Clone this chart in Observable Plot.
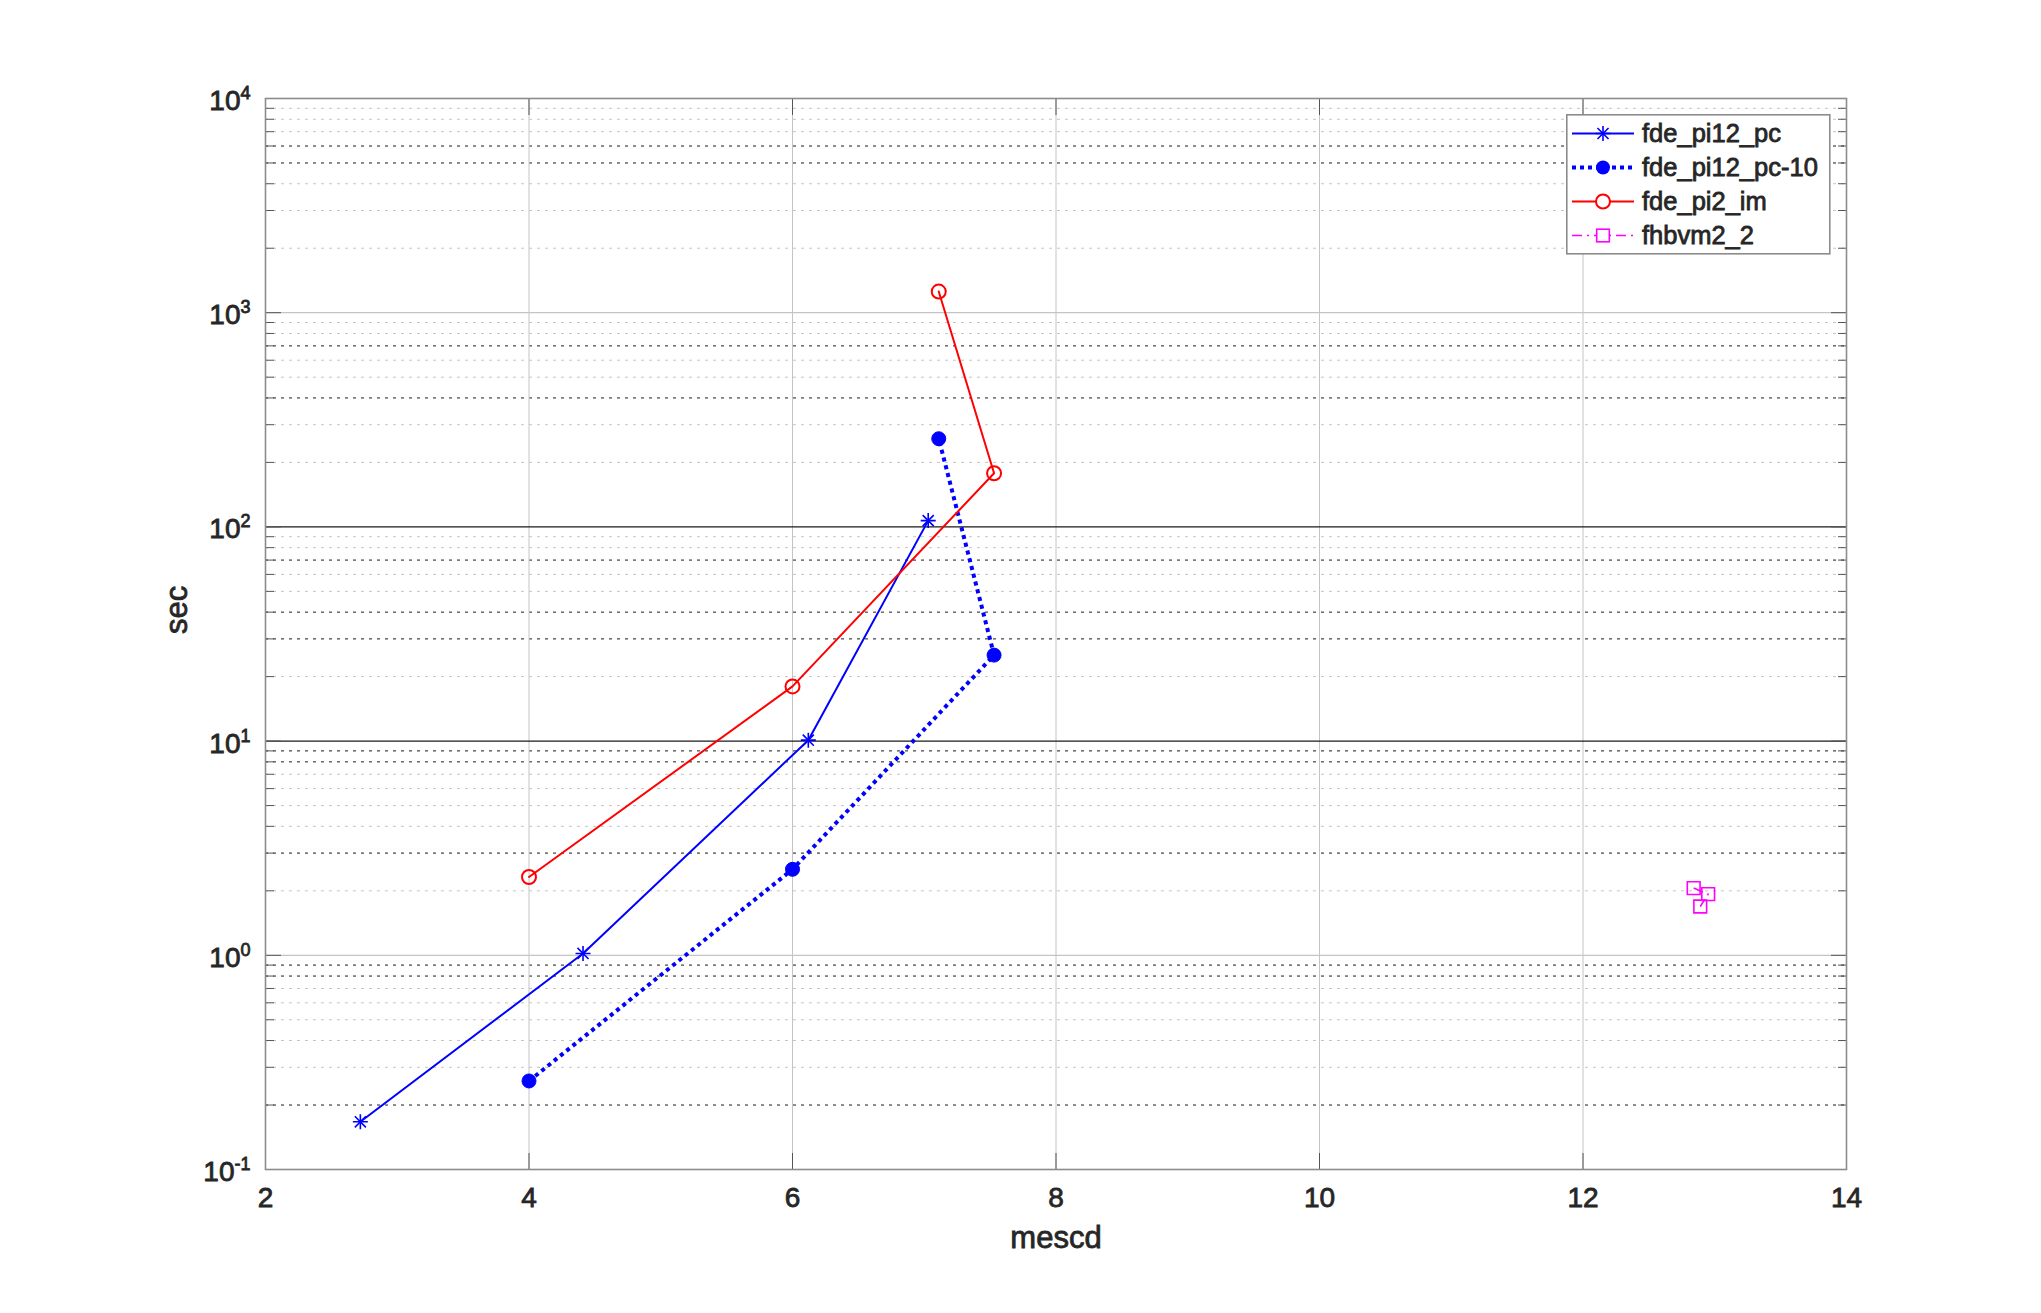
<!DOCTYPE html>
<html>
<head>
<meta charset="utf-8">
<script src="https://cdn.jsdelivr.net/npm/d3@7"></script>
<script src="https://cdn.jsdelivr.net/npm/@observablehq/plot@0.6"></script>
<style>
  body { margin: 0; background: #fff; }
  #wrap { position: relative; width: 2041px; height: 1313px; font-family: "Liberation Sans", Arial, sans-serif; }
  #wrap svg { position: absolute; left: 0; top: 0; }
  #wrap text { stroke: #262626; stroke-width: 0.8px; }
</style>
</head>
<body>
<div id="wrap"></div>
<script>
// ---- data ----
const seriesNames = ["fde_pi12_pc", "fde_pi12_pc-10", "fde_pi2_im", "fhbvm2_2"];
const pcX   = [2.72, 4.41, 6.12, 7.03];
const pcY   = [0.167, 1.02, 10.1, 107];
const pc10X = [4.0, 6.0, 7.53, 7.11];
const pc10Y = [0.259, 2.52, 25.2, 258];
const imX   = [4.0, 6.0, 7.53, 7.11];
const imY   = [2.32, 18.0, 178, 1255];
const hbX   = [12.84, 12.95, 12.89];
const hbY   = [2.06, 1.93, 1.69];

const xTicks = [2, 4, 6, 8, 10, 12, 14];
const xGrid = [4, 6, 8, 10, 12];
const yDecades = [0.1, 1, 10, 100, 1000, 10000];
const majorDark = [10, 100];
const majorLight = [1, 1000];
const minorDark = [0.2, 0.8, 0.9, 3, 8, 9, 30, 40, 70, 400, 700, 5000, 6000];
const minorLight = [0.3, 0.4, 0.5, 0.6, 0.7, 2, 4, 5, 6, 7, 20, 50, 60, 80, 90,
                    200, 300, 500, 600, 800, 900, 2000, 3000, 4000, 7000, 8000, 9000];
const minorAll = minorDark.concat(minorLight);

const toPts = (xs, ys) => xs.map((x, i) => ({x, y: ys[i]}));
const pc = toPts(pcX, pcY);
const pc10 = toPts(pc10X, pc10Y);
const im = toPts(imX, imY);
const hb = toPts(hbX, hbY);

const BLUE = "#0000ff", RED = "#ff0000", MAG = "#ff00ff";
const TXT = "#262626", GRID = "#c4c4c4", DARK = "#1a1a1a", TICK = "#555555";

const chart = Plot.plot({
  width: 2041,
  height: 1313,
  marginLeft: 265,
  marginRight: 195,
  marginTop: 98,
  marginBottom: 144,
  x: {domain: [2, 14]},
  y: {type: "log", domain: [0.1, 10000]},
  style: {fontFamily: "Liberation Sans, Arial, sans-serif", color: TXT, background: "white", overflow: "visible"},
  marks: [
    // grid
    Plot.ruleY(minorLight, {stroke: GRID, strokeWidth: 1, strokeDasharray: "3 5"}),
    Plot.ruleY(minorDark, {stroke: DARK, strokeWidth: 1, strokeDasharray: "3 5"}),
    Plot.ruleX(xGrid, {stroke: GRID, strokeWidth: 1}),
    Plot.ruleY(majorLight, {stroke: GRID, strokeWidth: 1.2}),
    Plot.ruleY(majorDark, {stroke: DARK, strokeWidth: 1.2}),
    // inward ticks
    Plot.axisX(xTicks, {anchor: "bottom", tickSize: -16, tickFormat: () => "", label: null, stroke: TICK}),
    Plot.axisX(xTicks, {anchor: "top", tickSize: -16, tickFormat: () => "", label: null, stroke: TICK}),
    Plot.axisY(yDecades, {anchor: "left", tickSize: -16, tickFormat: () => "", label: null, stroke: TICK}),
    Plot.axisY(yDecades, {anchor: "right", tickSize: -16, tickFormat: () => "", label: null, stroke: TICK}),
    Plot.axisY(minorAll, {anchor: "left", tickSize: -9, tickFormat: () => "", label: null, stroke: TICK}),
    Plot.axisY(minorAll, {anchor: "right", tickSize: -9, tickFormat: () => "", label: null, stroke: TICK}),
    // tick labels
    Plot.axisX(xTicks, {anchor: "bottom", tickSize: 0, tickPadding: 18, fontSize: 28, label: null, fill: TXT,
      tickFormat: d => String(d)}),
    Plot.axisY(yDecades, {anchor: "left", tickSize: 0, tickPadding: 15, fontSize: 28, dy: 2.5, label: null, fill: TXT,
      tickFormat: d => "10^" + Math.round(Math.log10(d))}),
    // axis labels
    Plot.text(["mescd"], {text: d => d, frameAnchor: "bottom", lineAnchor: "top", dy: 56, fontSize: 31, fill: TXT}),
    Plot.text(["sec"], {text: d => d, frameAnchor: "left", rotate: -90, dx: -88, fontSize: 31, fill: TXT}),
    // series 1: blue solid, asterisk
    Plot.line(pc, {x: "x", y: "y", stroke: BLUE, strokeWidth: 2}),
    Plot.dot(pc, {x: "x", y: "y", symbol: "plus", r: 4.9, stroke: BLUE, strokeWidth: 1.6}),
    Plot.dot(pc, {x: "x", y: "y", symbol: "times", r: 5.1, stroke: BLUE, strokeWidth: 1.6}),
    // series 2: blue dotted thick, filled circles
    Plot.line(pc10, {x: "x", y: "y", stroke: BLUE, strokeWidth: 4, strokeDasharray: "4 4", strokeLinecap: "butt", strokeLinejoin: "miter"}),
    Plot.dot(pc10, {x: "x", y: "y", r: 7, fill: BLUE, stroke: BLUE, strokeWidth: 1}),
    // series 3: red solid, open circles
    Plot.line(im, {x: "x", y: "y", stroke: RED, strokeWidth: 2}),
    Plot.dot(im, {x: "x", y: "y", r: 7, fill: "none", stroke: RED, strokeWidth: 2}),
    // series 4: magenta dash-dot, open squares
    Plot.line(hb, {x: "x", y: "y", stroke: MAG, strokeWidth: 1.6, strokeDasharray: "10 5 2 5", strokeLinecap: "butt"}),
    Plot.dot(hb, {x: "x", y: "y", symbol: "square", r: 7.2, fill: "none", stroke: MAG, strokeWidth: 1.6}),
    // axes box
    Plot.frame({stroke: "#8c8c8c", strokeWidth: 1.6})
  ]
});

// superscript exponents in y tick labels
d3.select(chart).selectAll("text").each(function () {
  const m = /^10\^(-?\d+)$/.exec(this.textContent);
  if (m) {
    const t = d3.select(this);
    t.text("");
    t.append("tspan").text("10");
    t.append("tspan").attr("dy", -11).attr("font-size", 18).text(m[1]);
  }
});

const wrap = document.getElementById("wrap");
wrap.appendChild(chart);

// legend (inside axes, upper right)
const leg = d3.select(wrap).append("svg")
  .style("left", "1566px").style("top", "114px")
  .attr("width", 266).attr("height", 142)
  .style("font-family", "Liberation Sans, Arial, sans-serif");
leg.append("rect").attr("x", 0.8).attr("y", 0.8).attr("width", 263).attr("height", 139)
  .attr("fill", "white").attr("stroke", "#8c8c8c").attr("stroke-width", 1.6);

const styles = [
  {stroke: BLUE, w: 2, dash: null, marker: "asterisk"},
  {stroke: BLUE, w: 4, dash: "4 4", marker: "filled"},
  {stroke: RED, w: 2, dash: null, marker: "circle"},
  {stroke: MAG, w: 1.6, dash: "10 5 2 5", marker: "square"}
];
seriesNames.forEach((name, i) => {
  const cy = 19.5 + 34 * i;
  const s = styles[i];
  const g = leg.append("g");
  g.append("line").attr("x1", 6).attr("x2", 68).attr("y1", cy).attr("y2", cy)
    .attr("stroke", s.stroke).attr("stroke-width", s.w).attr("stroke-dasharray", s.dash);
  const mg = g.append("g").attr("transform", `translate(37,${cy})`);
  if (s.marker === "asterisk") {
    mg.append("path").attr("d", d3.symbol(d3.symbolPlus, Math.PI * 4.9 * 4.9)()).attr("fill", "none").attr("stroke", s.stroke).attr("stroke-width", 1.6);
    mg.append("path").attr("d", d3.symbol(d3.symbolTimes, Math.PI * 5.1 * 5.1)()).attr("fill", "none").attr("stroke", s.stroke).attr("stroke-width", 1.6);
  } else if (s.marker === "filled") {
    mg.append("circle").attr("r", 7).attr("fill", s.stroke);
  } else if (s.marker === "circle") {
    mg.append("circle").attr("r", 7).attr("fill", "white").attr("stroke", s.stroke).attr("stroke-width", 2);
  } else {
    mg.append("rect").attr("x", -6.3).attr("y", -6.3).attr("width", 12.6).attr("height", 12.6)
      .attr("fill", "white").attr("stroke", s.stroke).attr("stroke-width", 1.6);
  }
  g.append("text").attr("x", 76).attr("y", cy).attr("dy", "0.35em")
    .attr("font-size", 25.5).attr("fill", TXT).text(name);
});
</script>
</body>
</html>
